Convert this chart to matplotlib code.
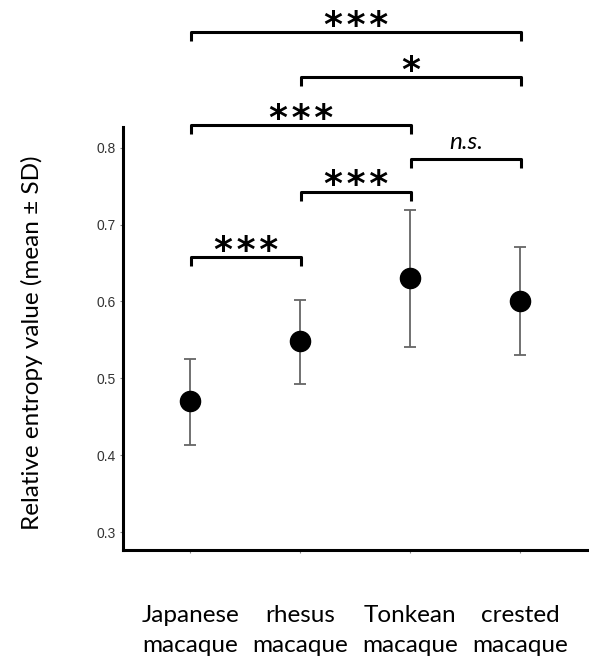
import matplotlib
matplotlib.use("Agg")
import matplotlib.pyplot as plt

categories = ["Japanese\nmacaque", "rhesus\nmacaque", "Tonkean\nmacaque", "crested\nmacaque"]
means = [0.470, 0.548, 0.630, 0.601]
sd_upper = [0.525, 0.602, 0.719, 0.671]
sd_lower = [0.413, 0.492, 0.541, 0.530]
yticks = [0.3, 0.4, 0.5, 0.6, 0.7, 0.8]
ytick_labels = ["0.3", "0.4", "0.5", "0.6", "0.7", "0.8"]

# significance comparisons: (left index, right index, bracket height, label)
comp_left = [0, 1, 0, 2, 1, 0]
comp_right = [1, 2, 2, 3, 3, 3]
comp_height = [0.658, 0.743, 0.830, 0.786, 0.892, 0.951]
comp_label = ["***", "***", "***", "n.s.", "*", "***"]

fig = plt.figure(figsize=(5.89, 6.62), dpi=100)
ax = fig.add_axes([123/589, 1-550/662, (587-123)/589, (550-127)/662])

x = list(range(len(categories)))
yerr = [[m - l for m, l in zip(means, sd_lower)], [u - m for u, m in zip(sd_upper, means)]]
ax.errorbar(x, means, yerr=yerr, fmt='o', color='black', markersize=14.5,
            ecolor='#666666', elinewidth=1.3, capsize=4, capthick=1.3, zorder=3)

ax.set_xlim(-0.61, 3.61)
ax.set_ylim(0.2766, 0.827)
ax.set_yticks(yticks)
ax.set_yticklabels(ytick_labels, fontfamily='Liberation Sans', fontsize=10, color='#333333')
ax.set_xticks(x)
ax.set_xticklabels(categories, fontfamily='Lato', fontsize=17.5, linespacing=1.55)
ax.tick_params(axis='y', length=2, width=0.8, color='#888888', pad=3)
ax.tick_params(axis='x', length=2, width=0.8, color='#888888', pad=37.5)

for s in ['top', 'right']:
    ax.spines[s].set_visible(False)
for s in ['left', 'bottom']:
    ax.spines[s].set_linewidth(2.2)
    ax.spines[s].set_color('black')

ax.set_ylabel("Relative entropy value (mean ± SD)", fontfamily='Lato', fontsize=17.5)
ax.yaxis.set_label_coords(-0.172, 0.49)

tip = 0.0117
for l, r, h, lab in zip(comp_left, comp_right, comp_height, comp_label):
    xl = x[l] + 0.01
    xr = x[r] + 0.01
    ax.plot([xl, xl, xr, xr], [h - tip, h, h, h - tip], color='black', lw=2.2,
            clip_on=False, solid_capstyle='butt', solid_joinstyle='round')
    if lab == "n.s.":
        ax.text((xl + xr) / 2, h + 0.021, lab, ha='center', va='center',
                fontfamily='Lato', fontstyle='italic', fontsize=17.5, clip_on=False)
    else:
        ax.text((xl + xr) / 2, h + 0.008, "\u200a".join(lab), ha='center', va='center',
                fontfamily='DejaVu Sans', fontweight='bold', fontsize=26, clip_on=False)

fig.savefig("out.png", dpi=100)
